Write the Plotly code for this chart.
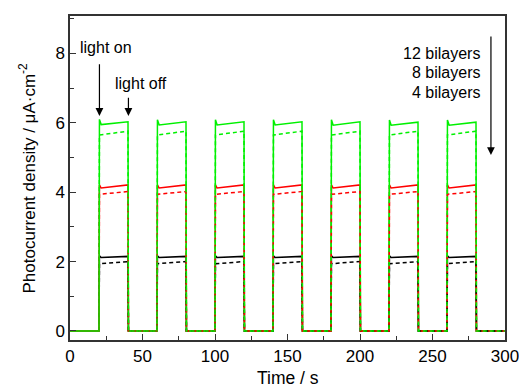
import plotly.graph_objects as go

# ---- data ----
t_on = [20, 60, 100, 140, 180, 220, 260]
t_off = [40, 80, 120, 160, 200, 240, 280]
t_end = 300

# solid lines: spike at light on, short dip, value just before light off
g_peak = [6.10, 6.09, 6.09, 6.09, 6.09, 6.08, 6.08]
g_dip = [5.95, 5.94, 5.94, 5.94, 5.93, 5.93, 5.93]
g_endv = [6.03, 6.03, 6.03, 6.03, 6.03, 6.02, 6.02]
r_peak = [4.21, 4.21, 4.21, 4.21, 4.21, 4.21, 4.21]
r_dip = [4.12, 4.12, 4.12, 4.12, 4.12, 4.12, 4.12]
r_endv = [4.21, 4.21, 4.21, 4.21, 4.21, 4.21, 4.21]
k_peak = [2.17, 2.17, 2.17, 2.17, 2.17, 2.17, 2.17]
k_dip = [2.12, 2.12, 2.12, 2.12, 2.12, 2.12, 2.12]
k_endv = [2.15, 2.15, 2.15, 2.15, 2.15, 2.15, 2.15]

# dashed lines: value after light on, value before light off
gd_start = [5.65, 5.65, 5.65, 5.65, 5.65, 5.65, 5.65]
gd_endv = [5.76, 5.76, 5.76, 5.76, 5.76, 5.76, 5.76]
rd_start = [3.94, 3.94, 3.94, 3.94, 3.94, 3.94, 3.94]
rd_endv = [4.02, 4.02, 4.02, 4.02, 4.02, 4.02, 4.02]
kd_start = [1.94, 1.94, 1.94, 1.94, 1.94, 1.94, 1.94]
kd_endv = [2.00, 2.00, 2.00, 2.00, 2.00, 2.00, 2.00]

rise = 0.3
dip_dt = 1.5


def solid_trace(peak, dip, endv):
    xs, ys = [0], [0]
    for on, off, p, d, e in zip(t_on, t_off, peak, dip, endv):
        xs += [on, on + rise, on + dip_dt, off, off + rise]
        ys += [0, p, d, e, 0]
    xs.append(t_end)
    ys.append(0)
    return xs, ys


def dashed_trace(start, endv):
    xs, ys = [], []
    for on, off, s, e in zip(t_on, t_off, start, endv):
        xs += [on, on + rise, off, off + rise]
        ys += [0, s, e, 0]
    xs.append(t_end)
    ys.append(0)
    return xs, ys


FONT = "Liberation Sans, Arial, sans-serif"
GREEN = "#00f000"
fig = go.Figure()

for (pk, dp, ev), col in [((k_peak, k_dip, k_endv), "#000000"),
                          ((r_peak, r_dip, r_endv), "#ff0000"),
                          ((g_peak, g_dip, g_endv), GREEN)]:
    x, y = solid_trace(pk, dp, ev)
    fig.add_trace(go.Scatter(x=x, y=y, mode="lines",
                             line=dict(color=col, width=1.5), showlegend=False))

for (st, ev), col in [((kd_start, kd_endv), "#000000"),
                      ((rd_start, rd_endv), "#ff0000"),
                      ((gd_start, gd_endv), GREEN)]:
    x, y = dashed_trace(st, ev)
    fig.add_trace(go.Scatter(x=x, y=y, mode="lines",
                             line=dict(color=col, width=1.5, dash="4px,3px"),
                             showlegend=False))

axis_common = dict(showline=True, linecolor="#333333", linewidth=1.5, mirror=True,
                   ticks="inside", ticklen=6, tickwidth=1.2, tickcolor="#333333",
                   showgrid=False, zeroline=False, automargin=False,
                   ticklabeloverflow="allow",
                   tickfont=dict(family=FONT, size=17, color="#000000"))

fig.update_xaxes(range=[0, 300], dtick=50, tick0=0,
                 minor=dict(ticks="inside", ticklen=4, dtick=25, tick0=0,
                            tickcolor="#333333", tickwidth=1.2),
                 **axis_common)
fig.update_yaxes(range=[-0.26, 9.08], dtick=2, tick0=0,
                 minor=dict(ticks="inside", ticklen=4, dtick=1, tick0=0,
                            tickcolor="#333333", tickwidth=1.2),
                 **axis_common)

ann = []
# axis titles
ann.append(dict(text="Time / s", xref="paper", yref="paper", x=0.5, y=0,
                xanchor="center", yanchor="middle", yshift=-37.5, showarrow=False,
                font=dict(family=FONT, size=17.5, color="#000")))
ann.append(dict(text="Photocurrent density / μA·cm<sup>-2</sup>", xref="paper", yref="paper",
                x=0, y=0.5, xanchor="center", yanchor="middle", xshift=-42.5,
                textangle=-90, showarrow=False,
                font=dict(family=FONT, size=17, color="#000")))

arrow_style = dict(showarrow=True, arrowhead=2, arrowsize=1.3, arrowwidth=1.2,
                   arrowcolor="#000000", text="", axref="x", ayref="y", xref="x", yref="y")
ann.append(dict(x=20.3, y=6.2, ax=20.3, ay=7.73, **arrow_style))
ann.append(dict(x=40.3, y=6.2, ax=40.3, ay=6.77, **arrow_style))
ann.append(dict(x=290.3, y=5.07, ax=290.3, ay=8.53, **arrow_style))

txt = dict(showarrow=False, xref="x", yref="y",
           font=dict(family=FONT, size=16, color="#000000"))
ann.append(dict(x=24.9, y=8.16, text="light on", xanchor="center", yanchor="middle", **txt))
ann.append(dict(x=48.7, y=7.12, text="light off", xanchor="center", yanchor="middle", **txt))
ann.append(dict(x=284.3, y=8.00, text="12 bilayers", xanchor="right", yanchor="middle", **txt))
ann.append(dict(x=284.3, y=7.44, text="8 bilayers", xanchor="right", yanchor="middle", **txt))
ann.append(dict(x=284.3, y=6.87, text="4 bilayers", xanchor="right", yanchor="middle", **txt))

fig.update_layout(width=519, height=387,
                  margin=dict(l=69.5, r=14.3, t=16, b=47, pad=0),
                  paper_bgcolor="white", plot_bgcolor="white",
                  font=dict(family=FONT, color="#000"),
                  annotations=ann)

# remove the default page margin so the 519x387 figure fills the window exactly
fig.write_html("out.html",
               config={"displayModeBar": False},
               post_script="document.body.style.margin='0';"
                           "document.body.style.overflow='hidden';")
